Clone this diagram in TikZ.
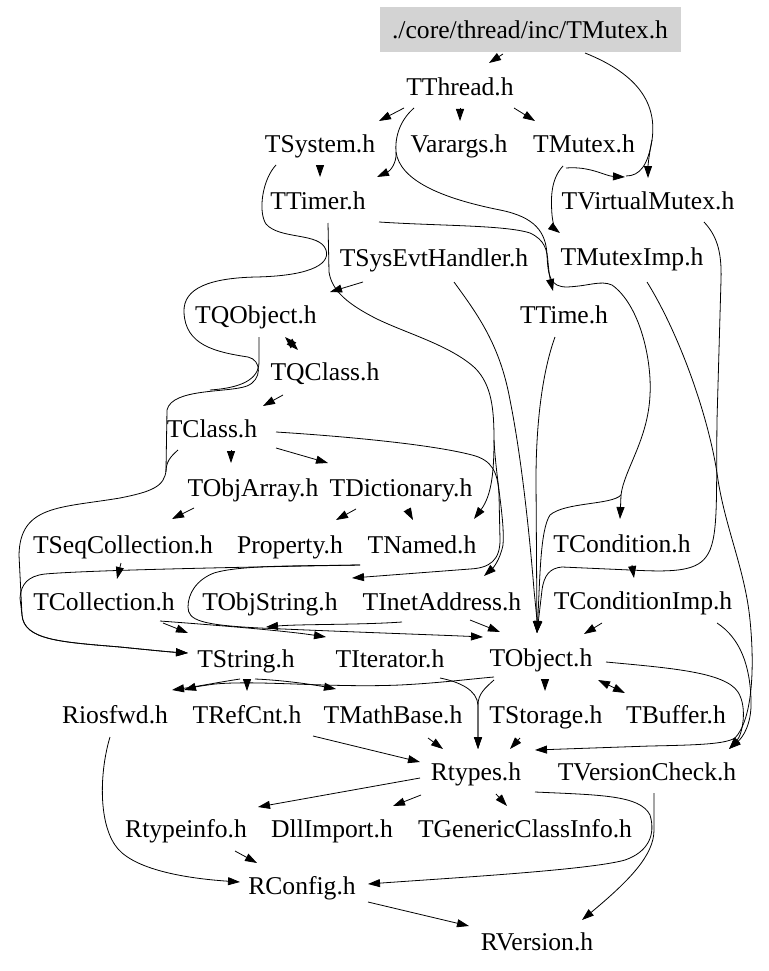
\documentclass[tikz,border=0pt]{standalone}
\usepackage{fontspec}
\setmainfont{Liberation Serif}
\usetikzlibrary{arrows.meta,calc}
\definecolor{rootgray}{HTML}{D3D3D3}
\tikzset{
  file/.style={inner sep=0pt, minimum height=46pt, text height=17.5pt, text depth=0pt,
    font=\fontsize{25.6}{30}\selectfont},
  rootfile/.style={file, fill=rootgray, minimum width=301pt, minimum height=45pt},
  dep/.style={line width=0.8pt, -{Triangle[length=12pt,width=8pt]}},
  depboth/.style={line width=0.8pt, {Triangle[length=12pt,width=8pt]}-{Triangle[length=12pt,width=8pt]}},
  link/.style={line width=0.8pt},
}
\begin{document}
\begin{tikzpicture}[x=1pt,y=-1pt]
\useasboundingbox (0,0) rectangle (768,971);

% files
\node[rootfile] (root) at (530,30) {./core/thread/inc/TMutex.h};
\node[file] (tthread) at (460,87) {TThread.h};
\node[file] (tsystem) at (320,144) {TSystem.h};
\node[file] (varargs) at (459,144) {Varargs.h};
\node[file] (tmutex) at (584,144) {TMutex.h};
\node[file] (ttimer) at (318,201) {TTimer.h};
\node[file] (tvirtualmutex) at (648,201) {TVirtualMutex.h};
\node[file] (tsysevthandler) at (434,258) {TSysEvtHandler.h};
\node[file] (tmuteximp) at (632,257) {TMutexImp.h};
\node[file] (tqobject) at (256,315) {TQObject.h};
\node[file] (ttime) at (564,315) {TTime.h};
\node[file] (tqclass) at (325,372) {TQClass.h};
\node[file] (tclass) at (212,429) {TClass.h};
\node[file] (tobjarray) at (253,488) {TObjArray.h};
\node[file] (tdictionary) at (401,488) {TDictionary.h};
\node[file] (tseqcollection) at (123,545) {TSeqCollection.h};
\node[file] (property) at (290,545) {Property.h};
\node[file] (tnamed) at (422,545) {TNamed.h};
\node[file] (tcondition) at (622,544) {TCondition.h};
\node[file] (tcollection) at (104,602) {TCollection.h};
\node[file] (tobjstring) at (270,602) {TObjString.h};
\node[file] (tinetaddress) at (442,602) {TInetAddress.h};
\node[file] (tconditionimp) at (643,601) {TConditionImp.h};
\node[file] (tstring) at (246,659) {TString.h};
\node[file] (titerator) at (390,659) {TIterator.h};
\node[file] (tobject) at (541,658) {TObject.h};
\node[file] (riosfwd) at (115,715) {Riosfwd.h};
\node[file] (trefcnt) at (247,715) {TRefCnt.h};
\node[file] (tmathbase) at (393,715) {TMathBase.h};
\node[file] (tstorage) at (546,715) {TStorage.h};
\node[file] (tbuffer) at (676,715) {TBuffer.h};
\node[file] (rtypes) at (476,772) {Rtypes.h};
\node[file] (tversioncheck) at (647,772) {TVersionCheck.h};
\node[file] (rtypeinfo) at (186,829) {Rtypeinfo.h};
\node[file] (dllimport) at (332,829) {DllImport.h};
\node[file] (tgenericclassinfo) at (525,829) {TGenericClassInfo.h};
\node[file] (rconfig) at (302,886) {RConfig.h};
\node[file] (rversion) at (537,942) {RVersion.h};

\coordinate (rootsplit) at (652,140);
\coordinate (threadsplit) at (621,495);

% top part
\draw[dep] ($(root)+(-27,24)$) -- ($(tthread)+(29,-24)$);
\draw[dep] ($(root)+(55,23)$) .. controls (640,75) and (657,105) .. (rootsplit)
  .. controls (649,155) and (648,165) .. ($(tvirtualmutex)+(0,-23)$);
\draw[link] (rootsplit) .. controls (648,165) and (640,176) .. ($(tvirtualmutex)+(-22,-25)$);
\draw[dep] ($(tthread)+(-56,21)$) -- ($(tsystem)+(59,-23)$);
\draw[dep] ($(tthread)+(0,21)$) -- ($(varargs)+(1,-23)$);
\draw[dep] ($(tthread)+(54,21)$) -- ($(tmutex)+(-49,-23)$);
\draw[dep] ($(tthread)+(-46,21)$) .. controls (398,122) and (395,140) .. (396,152)
  .. controls (397,163) and (390,171) .. ($(ttimer)+(59,-24)$);
\draw[link] (396,152) .. controls (400,180) and (440,198) .. (500,210)
  .. controls (535,217) and (546,232) .. (547,255)
  .. controls (548,276) and (550,287) .. (567,287)
  .. controls (590,286) and (600,280) .. (612,285)
  .. controls (640,305) and (652,360) .. (650,395)
  .. controls (648,440) and (624,470) .. (threadsplit);
\draw[dep] (threadsplit) -- ($(tcondition)+(-2,-25)$);
\draw[dep] (threadsplit) .. controls (612,505) and (565,502) .. (550,515)
  .. controls (540,530) and (540,580) .. ($(tobject)+(-4,-25)$);
\draw[dep] ($(tsystem)+(0,21)$) -- ($(ttimer)+(2,-24)$);
\draw[dep] ($(tmutex)+(-21,22)$) .. controls (550,180) and (551,200) .. (552,215)
  .. controls (553,225) and (556,230) .. ($(tmuteximp)+(-72,-24)$);
\draw[dep] ($(tmutex)+(-18,24)$) .. controls (590,166) and (605,176) .. ($(tvirtualmutex)+(-23,-24)$);
\draw[dep] ($(ttimer)+(61,21)$) .. controls (440,226) and (505,225) .. (530,233)
  .. controls (545,240) and (547,250) .. (548,262)
  .. controls (549,275) and (551,283) .. ($(ttime)+(-11,-24)$);

% long loop on the left
\draw[dep] ($(tsystem)+(-44,21)$) .. controls (262,180) and (258,212) .. (266,224)
  .. controls (280,240) and (320,232) .. (326,250)
  .. controls (331,266) and (305,276) .. (256,277)
  .. controls (210,278) and (183,288) .. (184,312)
  .. controls (185,345) and (215,352) .. (248,357)
  .. controls (262,360) and (262,380) .. (247,386)
  .. controls (228,393) and (172,388) .. (167,410) -- (166,470)
  .. controls (165,487) and (150,492) .. (120,498)
  .. controls (60,508) and (20,505) .. (19,555) -- (22,615)
  .. controls (24,640) and (60,642) .. (120,647)
  .. controls (150,650) and (170,652) .. ($(tstring)+(-58,-6)$);
\draw[link] ($(tqobject)+(3,22)$) -- (259,362) .. controls (259,380) and (240,388) .. (210,390);
\draw[link] ($(tclass)+(-34,21)$) .. controls (170,457) and (166,462) .. (166,472);
\draw[dep] ($(tsysevthandler)+(-71,24)$) -- ($(tqobject)+(74,-23)$);
\draw[dep] ($(tsysevthandler)+(20,24)$) .. controls (478,315) and (500,345) .. (510,400)
  .. controls (522,460) and (530,540) .. (534,590)
  .. controls (536,610) and (537,620) .. ($(tobject)+(-4,-25)$);
\draw[dep] ($(ttime)+(-9,22)$) .. controls (543,370) and (536,420) .. (536,480) -- ($(tobject)+(-4,-25)$);
\draw[dep] ($(ttimer)+(10,22)$) -- (329,272) .. controls (332,292) and (350,305) .. (375,318)
  .. controls (405,333) and (450,345) .. (475,368)
  .. controls (492,385) and (494,410) .. (494,440)
  .. controls (494,470) and (492,495) .. ($(tnamed)+(52,-26)$);
\draw[dep] (494,440) .. controls (496,480) and (505,520) .. (503,545)
  .. controls (500,560) and (493,568) .. ($(tinetaddress)+(42,-26)$);
\draw[dep] ($(tclass)+(64,3)$) .. controls (340,436) and (430,444) .. (472,455)
  .. controls (492,460) and (498,472) .. (499,495) -- (500,540)
  .. controls (500,560) and (490,568) .. (470,569) -- ($(tobjstring)+(82,-24)$);

% middle part
\draw[depboth] ($(tqobject)+(29,22)$) -- ($(tqclass)+(-27,-22)$);
\draw[dep] ($(tqclass)+(-42,23)$) -- ($(tclass)+(51,-23)$);
\draw[dep] ($(tclass)+(19,21)$) -- ($(tobjarray)+(-22,-25)$);
\draw[dep] ($(tclass)+(64,19)$) -- ($(tdictionary)+(-73,-25)$);
\draw[dep] ($(tobjarray)+(-59,20)$) -- ($(tseqcollection)+(49,-26)$);
\draw[dep] ($(tdictionary)+(-45,21)$) -- ($(property)+(46,-25)$);
\draw[dep] ($(tdictionary)+(6,21)$) -- ($(tnamed)+(-9,-25)$);
\draw[dep] ($(tseqcollection)+(-2,18)$) -- ($(tcollection)+(13,-23)$);
\draw[dep] ($(tnamed)+(-62,20)$) .. controls (250,567) and (90,570) .. (45,574)
  .. controls (28,576) and (21,584) .. (20,598) -- (22,615)
  .. controls (24,640) and (60,642) .. (120,647)
  .. controls (150,650) and (170,652) .. ($(tstring)+(-58,-6)$);
\draw[dep] ($(tnamed)+(-62,20)$) .. controls (300,566) and (240,565) .. (214,573)
  .. controls (196,580) and (188,594) .. (188,607)
  .. controls (188,620) and (200,625) .. (260,628)
  .. controls (350,632) and (440,635) .. ($(tobject)+(-58,-21)$);
\draw[dep] ($(tcollection)+(59,21)$) -- ($(tstring)+(-58,-26)$);
\draw[dep] ($(tcollection)+(56,19)$) .. controls (200,624) and (280,630) .. ($(titerator)+(-64,-22)$);
\draw[dep] ($(tinetaddress)+(28,18)$) -- ($(tobject)+(-41,-26)$);
\draw[dep] ($(tinetaddress)+(-40,20)$) .. controls (360,625) and (300,624) .. ($(tstring)+(20,-32)$);

% right part
\draw[dep] ($(tvirtualmutex)+(56,21)$) .. controls (716,235) and (722,250) .. (721,280) -- (717,420)
  .. controls (716,500) and (719,540) .. (706,557)
  .. controls (695,572) and (670,572) .. (630,570) -- (562,567)
  .. controls (550,568) and (544,575) .. (542,590) -- ($(tobject)+(-4,-25)$);
\draw[dep] ($(tcondition)+(10,21)$) -- ($(tconditionimp)+(-9,-23)$);
\draw[dep] ($(tmuteximp)+(15,25)$) .. controls (680,335) and (710,420) .. (718,480)
  .. controls (726,530) and (745,570) .. (750,620)
  .. controls (755,670) and (752,720) .. (735,738)
  .. controls (725,744) and (700,745) .. (650,746) -- ($(rtypes)+(59,-22)$);
\draw[dep] ($(tconditionimp)+(-41,22)$) -- ($(tobject)+(43,-24)$);
\draw[dep] ($(tconditionimp)+(74,22)$) .. controls (740,638) and (750,665) .. (751,700)
  .. controls (752,725) and (742,738) .. ($(tversioncheck)+(82,-23)$);
\draw[dep] ($(tobject)+(65,4)$) .. controls (670,668) and (725,672) .. (738,692)
  .. controls (748,708) and (742,735) .. ($(tversioncheck)+(82,-23)$);
\draw[dep] ($(tobject)+(4,21)$) -- ($(tstorage)+(-1,-24)$);
\draw[depboth] ($(tobject)+(57,22)$) -- ($(tbuffer)+(-51,-22)$);

% lower part
\draw[dep] ($(tstring)+(-6,20)$) .. controls (220,682) and (200,686) .. ($(riosfwd)+(57,-25)$);
\draw[dep] ($(tobject)+(-47,19)$) .. controls (470,679) and (440,683) .. (400,685)
  .. controls (330,688) and (260,680) .. (215,684)
  .. controls (200,686) and (195,687) .. ($(riosfwd)+(69,-25)$);
\draw[dep] ($(tstring)+(1,20)$) -- ($(trefcnt)+(0,-24)$);
\draw[dep] ($(tstring)+(9,20)$) .. controls (280,680) and (310,684) .. ($(tmathbase)+(-57,-26)$);
\draw[dep] ($(titerator)+(50,19)$) .. controls (460,682) and (477,690) .. (478,705) -- ($(rtypes)+(2,-23)$);
\draw[dep] ($(tobject)+(-47,22)$) .. controls (485,688) and (478,694) .. (478,705) -- ($(rtypes)+(2,-23)$);
\draw[dep] ($(trefcnt)+(66,21)$) -- ($(rtypes)+(-56,-10)$);
\draw[dep] ($(tmathbase)+(35,23)$) -- ($(rtypes)+(-33,-23)$);
\draw[dep] ($(tstorage)+(-26,23)$) -- ($(rtypes)+(34,-23)$);
\draw[dep] ($(rtypes)+(-56,6)$) -- ($(rtypeinfo)+(72,-22)$);
\draw[dep] ($(rtypes)+(-55,23)$) -- ($(dllimport)+(61,-23)$);
\draw[dep] ($(rtypes)+(20,22)$) -- ($(tgenericclassinfo)+(-18,-23)$);
\draw[dep] ($(rtypes)+(59,20)$) .. controls (600,795) and (640,795) .. (650,815)
  .. controls (656,835) and (648,852) .. (625,860)
  .. controls (590,870) and (450,878) .. ($(rconfig)+(66,-2)$);
\draw[dep] ($(tversioncheck)+(7,21)$) -- (654,830) .. controls (654,855) and (630,880) .. ($(rversion)+(45,-22)$);
\draw[dep] ($(riosfwd)+(-5,22)$) .. controls (100,770) and (98,820) .. (115,845)
  .. controls (130,868) and (180,878) .. ($(rconfig)+(-62,-4)$);
\draw[dep] ($(rtypeinfo)+(49,22)$) -- ($(rconfig)+(-45,-23)$);
\draw[dep] ($(rconfig)+(66,16)$) -- ($(rversion)+(-68,-16)$);
\end{tikzpicture}
\end{document}
